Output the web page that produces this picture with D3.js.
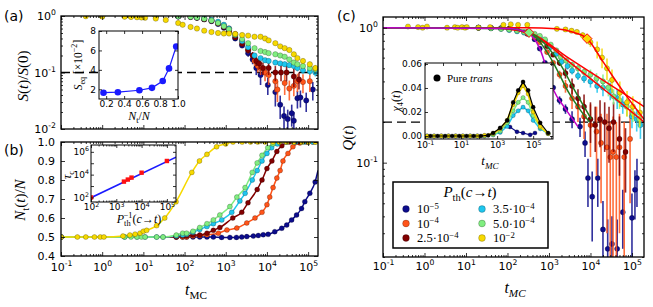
<!DOCTYPE html>
<html>
<head>
<meta charset="utf-8">
<script src="https://cdn.jsdelivr.net/npm/d3@7"></script>
<style>
body { margin: 0; background: #fff; }
svg { display: block; }
</style>
</head>
<body>
<svg id="fig" width="653" height="307"></svg>
<script>
// ---------------- data ----------------
const seriesNames = ["1e-5", "1e-4", "2.5e-4", "3.5e-4", "5e-4", "1e-2"];
const seriesColors = ["#0c0c8c", "#ff5419", "#820000", "#1ec6ee", "#80ee80", "#f7d900"];
const legendLabels = [
    [{t: "10"}, {t: "−5", sup: 1}],
    [{t: "10"}, {t: "−4", sup: 1}],
    [{t: "2.5·10"}, {t: "−4", sup: 1}],
    [{t: "3.5·10"}, {t: "−4", sup: 1}],
    [{t: "5.0·10"}, {t: "−4", sup: 1}],
    [{t: "10"}, {t: "−2", sup: 1}]
];

// (a) S(t)/S(0): [t, S, err]
const aNavy = [[1,1],[5,0.995],[20,0.99],[70,0.98],[140,0.96],[200,0.93],[300,0.87],[450,0.81],[650,0.72],[900,0.62],[1200,0.52],[1700,0.4],[2500,0.3,0.02],[3500,0.22,0.03],[4500,0.17,0.03],[5500,0.12,0.03],[7000,0.09,0.03],[10500,0.06,0.02],[16000,0.045,0.02],[21000,0.027,0.012],[26000,0.017,0.008],[32000,0.015,0.007],[40000,0.019,0.008],[45000,0.014,0.006],[55000,0.035,0.012],[65000,0.036,0.012],[90000,0.032,0.012],[130000,0.05,0.018]];
const aOrange = [[1,1],[5,0.995],[20,0.99],[70,0.985],[140,0.97],[200,0.95],[300,0.9],[450,0.84],[650,0.76],[900,0.68],[1200,0.6],[1700,0.48],[2500,0.36,0.02],[3500,0.25,0.03],[5000,0.16,0.03],[6000,0.13,0.03],[7000,0.12,0.03],[9000,0.1,0.03],[11000,0.09,0.03],[16000,0.07,0.025],[18000,0.05,0.02],[27000,0.065,0.025],[35000,0.052,0.02],[45000,0.058,0.02],[55000,0.07,0.025],[75000,0.068,0.025],[110000,0.07,0.025]];
const aDarkred = [[1,1],[5,0.995],[20,0.99],[70,0.985],[140,0.965],[200,0.93],[300,0.88],[450,0.82],[650,0.74],[900,0.64],[1200,0.55],[1700,0.42],[2500,0.32,0.02],[3500,0.25,0.03],[4500,0.2,0.03],[5500,0.16,0.03],[6500,0.145,0.03],[8000,0.12,0.03],[11000,0.12,0.03],[16000,0.1,0.03],[22000,0.1,0.03],[30000,0.1,0.03],[45000,0.085,0.03],[60000,0.075,0.025]];
const aCyan = [[1,1],[5,1],[20,0.995],[70,0.99],[140,0.975],[200,0.95],[300,0.91],[450,0.86],[650,0.79],[900,0.7],[1200,0.6],[1700,0.46],[2500,0.36,0.015],[3500,0.28,0.015],[5000,0.2,0.015],[7000,0.18,0.015],[9000,0.165,0.015],[11000,0.16,0.015],[16000,0.15,0.015],[21000,0.145,0.015],[27000,0.14,0.015],[35000,0.135,0.015],[45000,0.13,0.015],[55000,0.12,0.015],[75000,0.11,0.015],[110000,0.105,0.015],[150000,0.1,0.015]];
const aGreen = [[1,1],[5,1],[20,0.995],[70,0.99],[140,0.97],[200,0.94],[300,0.89],[450,0.83],[650,0.75],[900,0.66],[1200,0.58],[1700,0.47],[2500,0.39,0.015],[3500,0.33,0.015],[5000,0.27,0.015],[7000,0.24,0.015],[9000,0.23,0.015],[11000,0.22,0.015],[16000,0.21,0.015],[21000,0.2,0.015],[27000,0.19,0.015],[35000,0.17,0.015],[45000,0.15,0.015],[55000,0.14,0.015],[75000,0.13,0.015],[110000,0.12,0.015],[150000,0.115,0.015]];
const aYellow = [[0.4,0.99],[1,0.98],[3.5,0.97],[5,0.96],[7,0.95],[9,0.94],[11,0.93],[20,0.9],[35,0.85],[70,0.75],[90,0.7],[140,0.64],[200,0.6],[300,0.55],[450,0.52],[650,0.5],[900,0.49],[1200,0.49],[1700,0.48],[2500,0.46],[3500,0.45],[5000,0.43,0.02],[7000,0.43,0.02],[9000,0.4,0.02],[11000,0.37,0.02],[16000,0.33,0.02],[21000,0.29,0.02],[27000,0.27,0.02],[35000,0.25,0.02],[45000,0.21,0.02],[55000,0.18,0.015],[75000,0.16,0.015],[110000,0.14,0.015],[150000,0.12,0.015]];
const aSeries = [aNavy, aOrange, aDarkred, aCyan, aGreen, aYellow];
const aThreshold = 0.1;

// (a) inset: S_eq vs N_t/N
const seqFrac = [0.17, 0.33, 0.57, 0.71, 0.83, 0.9, 0.98];
const seqVal = [1.65, 1.7, 1.9, 2.15, 2.85, 4.15, 6.4];
const seqErr = [0, 0, 0, 0, 0.2, 0.3, 0];

// (b) N_t(t)/N: [t, N]
const bNavy = [[0.1,0.5],[63,0.5],[90,0.5],[112,0.5],[160,0.5],[234,0.5],[350,0.5],[500,0.5],[794,0.498],[1260,0.498],[1820,0.498],[2450,0.5],[3240,0.502],[4680,0.505],[6170,0.508],[8130,0.512],[10700,0.514],[15500,0.528],[22900,0.546],[30200,0.563],[39800,0.59],[52500,0.616],[69200,0.65],[83200,0.686],[110000,0.73],[148000,0.79]];
const bOrange = [[0.1,0.5],[63,0.5],[90,0.5],[112,0.5],[160,0.505],[234,0.508],[350,0.512],[660,0.52],[1070,0.537],[1860,0.547],[3240,0.574],[5130,0.6],[7590,0.63],[10000,0.67],[11700,0.71],[14100,0.76],[17400,0.81],[20900,0.85],[24500,0.9],[32400,0.94],[42700,0.975],[63000,0.995],[90000,1],[130000,1]];
const bDarkred = [[0.1,0.5],[63,0.5],[90,0.505],[112,0.505],[160,0.51],[234,0.51],[350,0.52],[500,0.535],[720,0.55],[1480,0.6],[2450,0.63],[3470,0.68],[5800,0.75],[7600,0.8],[10000,0.86],[13200,0.9],[17400,0.95],[23000,0.98],[35000,1],[60000,1],[100000,1]];
const bCyan = [[0.1,0.5],[3.5,0.5],[7,0.5],[11,0.5],[21,0.5],[30,0.5],[63,0.505],[90,0.51],[112,0.515],[160,0.525],[234,0.54],[350,0.555],[500,0.57],[800,0.59],[1400,0.63],[2200,0.69],[2950,0.73],[4400,0.8],[5800,0.85],[7600,0.9],[10000,0.94],[13000,0.97],[18000,0.99],[30000,1],[50000,1],[80000,1],[130000,1]];
const bGreen = [[0.1,0.5],[3.5,0.5],[5,0.5],[7,0.5],[9,0.5],[11,0.5],[21,0.5],[30,0.5],[63,0.51],[90,0.52],[112,0.52],[160,0.53],[234,0.55],[350,0.57],[500,0.59],[720,0.616],[1260,0.66],[1860,0.71],[2950,0.76],[4400,0.84],[5800,0.89],[7600,0.93],[10500,0.97],[14000,0.99],[20000,1],[30000,1],[45000,1],[70000,1],[100000,1],[150000,1]];
const bYellow = [[0.1,0.5],[0.25,0.5],[0.4,0.5],[0.65,0.5],[0.9,0.5],[1.1,0.5],[3.2,0.505],[4.7,0.51],[6.3,0.515],[8.3,0.52],[10,0.53],[12,0.535],[21,0.56],[33,0.6],[62,0.685],[150,0.84],[230,0.9],[350,0.935],[600,0.975],[1000,0.99],[1500,1],[2500,1],[4000,1],[6000,1],[9000,1],[14000,1],[20000,1],[30000,1],[45000,1],[70000,1],[100000,1],[150000,1]];
const bSeries = [bNavy, bOrange, bDarkred, bCyan, bGreen, bYellow];
const bCurveEnd = [0.85, 1, 1, 1, 1, 1];

// (b) inset: tau_c vs 1/P_th
const tauInvP = [100, 2000, 2857, 4000, 10000, 100000];
const tauVal = [100, 2450, 3700, 5500, 14800, 158000];
const tauFitX = [100, 230000];
const tauFitY = [95, 340000];

// (c) Q(t): [t, Q, err]
const cNavy = [[20,1],[40,0.995],[70,0.99],[110,0.98],[170,0.96],[300,0.9],[450,0.82],[600,0.7],[800,0.55],[1000,0.44],[1260,0.36],[1800,0.29,0.02],[2500,0.25,0.02],[3600,0.21,0.03],[5600,0.185,0.03],[7400,0.14,0.03],[8700,0.077,0.03],[11000,0.056,0.03],[15000,0.077,0.03],[20000,0.032,0.02],[26000,0.023,0.015],[33000,0.025,0.015],[44000,0.023,0.015],[60000,0.043,0.02],[100000,0.039,0.02],[118000,0.063,0.025],[132000,0.077,0.03]];
const cOrange = [[20,1],[40,0.995],[70,0.99],[110,0.98],[170,0.96],[300,0.91],[450,0.85],[600,0.78],[900,0.66],[1260,0.55],[1800,0.45,0.03],[2500,0.37,0.04],[3600,0.3,0.05],[5000,0.26,0.06],[7000,0.22,0.07],[10000,0.19,0.08],[14000,0.17,0.09],[18000,0.14,0.09],[25000,0.13,0.1],[30000,0.11,0.09],[35000,0.12,0.1],[42000,0.11,0.09],[50000,0.13,0.1],[65000,0.11,0.09],[90000,0.15,0.1]];
const cDarkred = [[20,1],[40,0.995],[70,0.99],[110,0.98],[170,0.96],[300,0.93],[450,0.88],[600,0.82],[900,0.73],[1260,0.63],[1800,0.55,0.03],[2500,0.46,0.04],[3600,0.37,0.05],[5000,0.3,0.05],[7000,0.26,0.06],[10000,0.21,0.07],[13000,0.19,0.07],[17000,0.21,0.08],[22000,0.2,0.08],[28000,0.18,0.08],[36000,0.2,0.08],[50000,0.15,0.07],[70000,0.12,0.06]];
const cCyan = [[20,1],[40,0.99],[70,0.98],[110,0.96],[170,0.94],[250,0.92],[450,0.88],[600,0.85],[800,0.8],[1100,0.72],[1500,0.64],[2000,0.56,0.03],[2800,0.52,0.03],[3600,0.48,0.03],[5000,0.44,0.03],[7000,0.42,0.03],[10000,0.4,0.04],[14500,0.37,0.04],[20000,0.36,0.05],[30000,0.34,0.05],[44000,0.3,0.05],[60000,0.27,0.04],[100000,0.22,0.04],[130000,0.21,0.04],[160000,0.19,0.04]];
const cGreen = [[20,1],[40,0.99],[70,0.98],[110,0.97],[170,0.95],[250,0.93],[450,0.9],[600,0.87],[800,0.82],[1100,0.75],[1500,0.68],[1900,0.61,0.03],[2600,0.57,0.03],[3600,0.53,0.03],[5000,0.5,0.03],[7000,0.47,0.03],[10000,0.45,0.04],[14000,0.42,0.04],[20000,0.4,0.05],[27000,0.36,0.05],[36000,0.31,0.04],[50000,0.29,0.04],[75000,0.26,0.04],[105000,0.23,0.03],[150000,0.21,0.03]];
const cYellow = [[0.4,1.02],[0.7,1.01],[0.9,1],[1.15,1.02],[3.5,1],[5.4,1.01],[6.3,1],[8,1.01],[9.5,1],[10.5,1.01],[20,1],[38,1.01],[80,1.05],[120,1.06],[180,1.05],[300,1.05],[1550,0.98],[2500,0.97],[3500,0.95],[4700,0.93],[6500,0.88,0.04],[10000,0.78,0.06],[14500,0.69,0.1],[19000,0.6,0.1],[25000,0.5,0.09],[33000,0.41,0.08],[51000,0.33,0.07],[76000,0.28,0.06],[105000,0.26,0.05],[155000,0.235,0.05]];
const cSeries = [cNavy, cOrange, cDarkred, cCyan, cGreen, cYellow];
const cThreshold = 0.2;

// (c) fits
const fitYellow = [[0.1,1],[300,1],[1500,0.98],[4000,0.92],[8300,0.83],[20000,0.56],[60000,0.34],[195000,0.21]];
const fitGreen = [[0.1,1],[40,0.995],[150,0.965],[330,0.92],[3000,0.594],[30000,0.377],[195000,0.26]];
const fitCyan = [[0.1,1],[60,0.99],[200,0.945],[460,0.87],[3000,0.56],[30000,0.32],[195000,0.2]];
const fitNavy = [[0.1,1],[100,0.985],[300,0.92],[600,0.7],[1260,0.35],[2500,0.25],[5000,0.185]];
const fitDarkred = [[0.1,1],[100,0.985],[400,0.9],[1000,0.7],[2000,0.52],[4000,0.35],[7000,0.26],[10500,0.21]];
const fitOrange = [[0.1,1],[100,0.985],[400,0.88],[900,0.66],[1500,0.5],[3000,0.33],[6000,0.24],[9500,0.2]];
const diamondT = [330, 8300];
const diamondQ = [0.92, 0.83];
const diamondSeries = [4, 5];

// (c) inset chi_4
const chiT = [0.13, 0.32, 0.8, 2, 5, 12.6, 32, 80, 200, 600, 1480, 3630, 7760, 14800, 27500, 52500, 100000, 245000, 676000];
const chiBlackT = [0.2, 0.5, 1.3, 3.2, 8, 20, 50, 126, 320, 600, 1480, 3630, 7760, 14800, 27500, 52500, 100000, 245000, 676000];
const chiBlack = [0, 0, 0, 0, 0, 0, 0, 0, 0.0005, 0.0025, 0.0067, 0.013, 0.028, 0.038, 0.045, 0.038, 0.024, 0.011, 0.0025];
const chiYellow = [0, 0, 0, 0, 0, 0, 0, 0, 0.0005, 0.002, 0.006, 0.013, 0.026, 0.036, 0.042, 0.035, 0.02, 0.008, 0.002];
const chiGreen = [0, 0, 0, 0, 0, 0, 0, 0, 0, 0.001, 0.004, 0.011, 0.021, 0.028, 0.032, 0.028, 0.017, 0.007, 0.002];
const chiCyan = [0, 0, 0, 0, 0, 0, 0, 0, 0, 0.001, 0.003, 0.008, 0.017, 0.021, 0.024, 0.021, 0.013, 0.006, 0.002];
const chiNavyT = [600, 1480, 2800, 5200, 12600, 27500, 68000, 126000];
const chiNavy = [0.002, 0.006, 0.0085, 0.0075, 0.0035, 0.0025, 0.001, 0.0025];

// ---------------- layout ----------------
const serif = "Liberation Serif, DejaVu Serif, serif";
const sans = "DejaVu Sans, sans-serif";
const PA = {x: 61, y: 16, w: 257, h: 113};
const PB = {x: 61, y: 142, w: 257, h: 114};
const PC = {x: 383, y: 17, w: 261, h: 240};
const IA = {x: 99, y: 31, w: 79, h: 68};
const IB = {x: 91, y: 145, w: 85, h: 57};
const IC = {x: 425, y: 63, w: 128, h: 76};
const LG = {x: 393, y: 182, w: 155, h: 66};

const svg = d3.select("#fig");
const defs = svg.append("defs");
let clipN = 0;

function panel(box) {
    const g = svg.append("g").attr("transform", `translate(${box.x},${box.y})`);
    const id = "clip" + (clipN++);
    defs.append("clipPath").attr("id", id).append("rect").attr("width", box.w).attr("height", box.h);
    const plot = g.append("g").attr("clip-path", `url(#${id})`);
    return {g, plot};
}

function logTicks(domain) {
    const lo = Math.floor(Math.log10(domain[0]) - 1e-9), hi = Math.ceil(Math.log10(domain[1]) + 1e-9);
    const major = [], minor = [];
    for (let e = lo; e <= hi; e++) {
        const v = Math.pow(10, e);
        if (v >= domain[0] * 0.999 && v <= domain[1] * 1.001) major.push(v);
        for (let k = 2; k < 10; k++) {
            const m = k * v;
            if (m >= domain[0] && m <= domain[1]) minor.push(m);
        }
    }
    return {major, minor};
}

function tickAxis(g, scale, orient, vals, size, fmt, fs, pad) {
    const make = {bottom: d3.axisBottom, top: d3.axisTop, left: d3.axisLeft, right: d3.axisRight}[orient];
    const ax = make(scale).tickValues(vals).tickSize(-size).tickPadding(pad || 3)
        .tickFormat(typeof fmt === "function" ? fmt : () => "");
    g.call(ax);
    g.select(".domain").remove();
    g.selectAll(".tick line").attr("stroke", "#000").attr("stroke-width", 0.8);
    g.selectAll(".tick text").attr("fill", "#000").attr("font-size", fs).attr("font-family", sans);
    if (fmt && fmt.pow) {
        g.selectAll(".tick text").each(function(d) {
            const e = Math.round(Math.log10(d));
            const t = d3.select(this);
            if (!fmt.keep(e)) return;
            t.text("10");
            t.append("tspan").attr("dy", -fs * 0.42).attr("font-size", fs * 0.7).text(e < 0 ? "-" + (-e) : e);
        });
    }
}

function axes(g, box, xs, ys, o) {
    const tl = o.tl || 4;
    const bottom = g.append("g").attr("transform", `translate(0,${box.h})`);
    tickAxis(bottom, xs, "bottom", o.xMajor, tl, o.xFmt, o.fs, o.xPad);
    tickAxis(g.append("g"), xs, "top", o.xMajor, tl);
    if (o.xMinor) {
        tickAxis(g.append("g").attr("transform", `translate(0,${box.h})`), xs, "bottom", o.xMinor, tl / 2);
        tickAxis(g.append("g"), xs, "top", o.xMinor, tl / 2);
    }
    tickAxis(g.append("g"), ys, "left", o.yMajor, tl, o.yFmt, o.fs, o.yPad);
    tickAxis(g.append("g").attr("transform", `translate(${box.w},0)`), ys, "right", o.yMajor, tl);
    if (o.yMinor) {
        tickAxis(g.append("g"), ys, "left", o.yMinor, tl / 2);
        tickAxis(g.append("g").attr("transform", `translate(${box.w},0)`), ys, "right", o.yMinor, tl / 2);
    }
    g.append("rect").attr("width", box.w).attr("height", box.h)
        .attr("fill", "none").attr("stroke", "#000").attr("stroke-width", o.sw || 1.3);
}

function rich(text, parts, fs, supRise) {
    let shift = 0;
    parts.forEach(p => {
        const ts = text.append("tspan").text(p.t);
        if (p.i) ts.attr("font-style", "italic");
        const target = p.sub ? fs * 0.28 : p.sup ? -fs * (supRise || 0.42) : 0;
        if (target !== shift) { ts.attr("dy", target - shift); shift = target; }
        if (p.sub || p.sup) ts.attr("font-size", fs * 0.7);
        if (p.dx) ts.attr("dx", p.dx);
    });
    return text;
}

function label(x, y, parts, fs, o = {}) {
    const t = svg.append("text").attr("x", x).attr("y", y).attr("font-size", fs)
        .attr("font-family", o.sans ? sans : serif).attr("text-anchor", o.anchor || "middle").attr("fill", "#000");
    if (o.rot) t.attr("transform", `rotate(-90,${x},${y})`);
    return rich(t, parts, fs, o.supRise);
}

function dots(plot, data, xs, ys, color, r, floor) {
    plot.selectAll(null).data(data.filter(d => d[2])).enter().append("line")
        .attr("x1", d => xs(d[0])).attr("x2", d => xs(d[0]))
        .attr("y1", d => ys(Math.max(d[1] - d[2], floor))).attr("y2", d => ys(d[1] + d[2]))
        .attr("stroke", color).attr("stroke-width", 1.6).attr("stroke-opacity", 0.85);
    plot.selectAll(null).data(data).enter().append("circle")
        .attr("cx", d => xs(d[0])).attr("cy", d => ys(d[1])).attr("r", r)
        .attr("fill", color).attr("stroke", "#000").attr("stroke-opacity", 0.45).attr("stroke-width", 0.5);
}

function curve(plot, data, xs, ys, color, w, kind) {
    plot.append("path").datum(data)
        .attr("d", d3.line().x(d => xs(d[0])).y(d => ys(d[1])).curve(kind || d3.curveMonotoneX))
        .attr("fill", "none").attr("stroke", color).attr("stroke-width", w);
}

function dashed(plot, box, y) {
    plot.append("line").attr("x1", 0).attr("x2", box.w).attr("y1", y).attr("y2", y)
        .attr("stroke", "#000").attr("stroke-width", 1.3).attr("stroke-dasharray", "9,5");
}

const pow = {pow: true, keep: () => true};
const powEven = {pow: true, keep: e => e % 2 === 0};
const powOdd = {pow: true, keep: e => Math.abs(e % 2) === 1};

// ---------------- panel (a) ----------------
const tDomAB = [0.1, Math.pow(10, 5.24)];
const xA = d3.scaleLog().domain(tDomAB).range([0, PA.w]);
const yA = d3.scaleLog().domain([0.01, 1]).range([PA.h, 0]);
const pa = panel(PA);
dashed(pa.plot, PA, yA(aThreshold));
aSeries.forEach((s, i) => dots(pa.plot, s, xA, yA, seriesColors[i], 2.7, 0.005));
const tA = logTicks(tDomAB), sA = logTicks([0.01, 1]);
axes(pa.g, PA, xA, yA, {xMajor: tA.major, xMinor: tA.minor, yMajor: sA.major, yMinor: sA.minor,
    yFmt: pow, fs: 11, yPad: 5});

// inset (a)
const xIA = d3.scaleLinear().domain([0.12, 1.0]).range([0, IA.w]);
const yIA = d3.scaleLinear().domain([1, 8]).range([IA.h, 0]);
svg.append("rect").attr("x", IA.x).attr("y", IA.y).attr("width", IA.w).attr("height", IA.h).attr("fill", "#fff");
const ia = panel(IA);
const seqPts = seqFrac.map((f, i) => [f, seqVal[i], seqErr[i]]);
curve(ia.plot, seqPts, xIA, yIA, "#1a1aff", 1.2, d3.curveLinear);
dots(ia.plot, seqPts, xIA, yIA, "#1a1aff", 3.3, 1);
ia.plot.selectAll("circle").attr("stroke", "none");
axes(ia.g, IA, xIA, yIA, {xMajor: [0.2, 0.4, 0.6, 0.8, 1.0], yMajor: [2, 4, 6, 8],
    xFmt: d3.format(".1f"), yFmt: d3.format("d"), fs: 9, tl: 3, sw: 1, xPad: 2, yPad: 3});

// ---------------- panel (b) ----------------
const xB = d3.scaleLog().domain(tDomAB).range([0, PB.w]);
const yB = d3.scaleLinear().domain([0.4, 1.0]).range([PB.h, 0]);
const pb = panel(PB);
bSeries.forEach((s, i) => curve(pb.plot, s.concat([[tDomAB[1], bCurveEnd[i]]]), xB, yB, seriesColors[i], 1.5));
bSeries.forEach((s, i) => dots(pb.plot, s, xB, yB, seriesColors[i], 2.5, 0.4));
const tB = logTicks(tDomAB);
axes(pb.g, PB, xB, yB, {xMajor: tB.major, xMinor: tB.minor, yMajor: [0.4, 0.5, 0.6, 0.7, 0.8, 0.9, 1.0],
    xFmt: pow, yFmt: d3.format(".1f"), fs: 11, xPad: 7, yPad: 6});

// inset (b)
const xIB = d3.scaleLog().domain([100, Math.pow(10, 5.36)]).range([0, IB.w]);
const yIB = d3.scaleLog().domain([Math.pow(10, 1.6), Math.pow(10, 6.6)]).range([IB.h, 0]);
svg.append("rect").attr("x", IB.x).attr("y", IB.y).attr("width", IB.w).attr("height", IB.h).attr("fill", "#fff");
const ib = panel(IB);
curve(ib.plot, tauFitX.map((v, i) => [v, tauFitY[i]]), xIB, yIB, "#1a1aff", 1.6, d3.curveLinear);
ib.plot.selectAll(null).data(tauInvP).enter().append("rect")
    .attr("x", d => xIB(d) - 2.2).attr("y", (d, i) => yIB(tauVal[i]) - 2.2)
    .attr("width", 4.4).attr("height", 4.4).attr("fill", "#ff1010");
const tIB = logTicks([100, Math.pow(10, 5.36)]);
axes(ib.g, IB, xIB, yIB, {xMajor: tIB.major, xMinor: tIB.minor, yMajor: [1e2, 1e3, 1e4, 1e5, 1e6],
    xFmt: pow, yFmt: powEven, fs: 9, tl: 3, sw: 1, xPad: 2, yPad: 2});

// ---------------- panel (c) ----------------
const tDomC = [0.1, Math.pow(10, 5.29)];
const xC = d3.scaleLog().domain(tDomC).range([0, PC.w]);
const yC = d3.scaleLog().domain([0.02, 1.2]).range([PC.h, 0]);
const pc = panel(PC);
dashed(pc.plot, PC, yC(cThreshold));
cSeries.forEach((s, i) => dots(pc.plot, s, xC, yC, seriesColors[i], 2.6, 0.01));
[fitYellow, fitGreen, fitCyan].forEach(f => curve(pc.plot, f, xC, yC, "#ff0000", 1.5));
curve(pc.plot, fitDarkred, xC, yC, "#1f7a1f", 1.5);
curve(pc.plot, fitOrange, xC, yC, "#1f7a1f", 1.5);
curve(pc.plot, fitNavy, xC, yC, "#c000c8", 1.5);
pc.plot.selectAll(null).data(diamondT).enter().append("path")
    .attr("d", d3.symbol(d3.symbolDiamond2, 60))
    .attr("transform", (d, i) => `translate(${xC(d)},${yC(diamondQ[i])})`)
    .attr("fill", (d, i) => seriesColors[diamondSeries[i]]).attr("stroke", "#ff0000").attr("stroke-width", 1);
const tC = logTicks(tDomC), qC = logTicks([0.02, 1.2]);
axes(pc.g, PC, xC, yC, {xMajor: tC.major, xMinor: tC.minor, yMajor: qC.major, yMinor: qC.minor,
    xFmt: pow, yFmt: pow, fs: 11, xPad: 5, yPad: 5});

// inset (c)
const xIC = d3.scaleLog().domain([0.1, Math.pow(10, 6.1)]).range([0, IC.w]);
const yIC = d3.scaleLinear().domain([-0.0025, 0.0608]).range([IC.h, 0]);
svg.append("rect").attr("x", IC.x).attr("y", IC.y).attr("width", IC.w).attr("height", IC.h).attr("fill", "#fff");
const ic = panel(IC);
const chiSets = [
    {t: chiNavyT, v: chiNavy, c: seriesColors[0], w: 1.2},
    {t: chiT, v: chiCyan, c: seriesColors[3], w: 1.5},
    {t: chiT, v: chiGreen, c: seriesColors[4], w: 1.5},
    {t: chiT, v: chiYellow, c: seriesColors[5], w: 2},
    {t: chiBlackT, v: chiBlack, c: "#000", w: 1.2}
];
chiSets.forEach(s => {
    const pts = s.t.map((t, i) => [t, s.v[i]]);
    curve(ic.plot, pts, xIC, yIC, s.c, s.w, d3.curveLinear);
    dots(ic.plot, pts, xIC, yIC, s.c, 2.1, -0.0025);
});
const tIC = logTicks([0.1, Math.pow(10, 6.1)]);
axes(ic.g, IC, xIC, yIC, {xMajor: tIC.major, yMajor: [0, 0.02, 0.04, 0.06],
    xFmt: powOdd, yFmt: d3.format(".2f"), fs: 9, tl: 3, sw: 1, xPad: 3, yPad: 3});
svg.append("circle").attr("cx", 437).attr("cy", 78).attr("r", 3.5).attr("fill", "#000");
label(447, 82, [{t: "Pure "}, {t: "trans", i: 1}], 11, {anchor: "start"});

// legend (c)
svg.append("rect").attr("x", LG.x).attr("y", LG.y).attr("width", LG.w).attr("height", LG.h)
    .attr("fill", "#fff").attr("stroke", "#000").attr("stroke-width", 1.5);
label(LG.x + 77, LG.y + 15, [{t: "P", i: 1}, {t: "th", sub: 1}, {t: "("}, {t: "c", i: 1}, {t: "→"}, {t: "t", i: 1}, {t: ")"}], 15);
seriesNames.forEach((n, i) => {
    const col = Math.floor(i / 3), row = i % 3;
    const mx = LG.x + 13 + col * 76, my = LG.y + 27 + row * 14.5;
    svg.append("circle").attr("cx", mx).attr("cy", my).attr("r", 3.4)
        .attr("fill", seriesColors[i]).attr("stroke", "#000").attr("stroke-opacity", 0.45).attr("stroke-width", 0.5);
    label(mx + 11, my + 4.3, legendLabels[i], 12.5, {anchor: "start", supRise: 0.36});
});

// ---------------- labels ----------------
label(4, 21, [{t: "(a)"}], 14, {sans: 1, anchor: "start"});
label(4, 155, [{t: "(b)"}], 14, {sans: 1, anchor: "start"});
label(337, 21, [{t: "(c)"}], 14, {sans: 1, anchor: "start"});

label(28, 76, [{t: "S", i: 1}, {t: "("}, {t: "t", i: 1}, {t: ")/"}, {t: "S", i: 1}, {t: "(0)"}], 15, {rot: 1});
label(25, 200, [{t: "N", i: 1}, {t: "t", sub: 1}, {t: "("}, {t: "t", i: 1}, {t: ")/"}, {t: "N", i: 1}], 15, {rot: 1});
label(353, 138, [{t: "Q", i: 1}, {t: "("}, {t: "t", i: 1}, {t: ")"}], 15, {rot: 1});
label(196, 295, [{t: "t", i: 1}, {t: "MC", sub: 1}], 16);
label(515, 293, [{t: "t", i: 1}, {t: "MC", sub: 1, i: 1}], 16);

label(82, 65, [{t: "S", i: 1}, {t: "eq", sub: 1}, {t: " [×10"}, {t: "−2", sup: 1}, {t: "]"}], 11.5, {rot: 1});
label(139, 120, [{t: "N", i: 1}, {t: "t", sub: 1}, {t: "/"}, {t: "N", i: 1}], 12);
label(71, 175, [{t: "τ", i: 1}, {t: "c", sub: 1}], 12, {rot: 1});
label(139, 223, [{t: "P", i: 1}, {t: "th", sub: 1}, {t: "−1", sup: 1, dx: -7}, {t: "("}, {t: "c", i: 1}, {t: "→"}, {t: "t", i: 1}, {t: ")"}], 12);
label(400, 101, [{t: "χ", i: 1}, {t: "4", sub: 1}, {t: "("}, {t: "t", i: 1}, {t: ")"}], 12, {rot: 1});
label(490, 165, [{t: "t", i: 1}, {t: "MC", sub: 1, i: 1}], 13);
</script>
</body>
</html>
